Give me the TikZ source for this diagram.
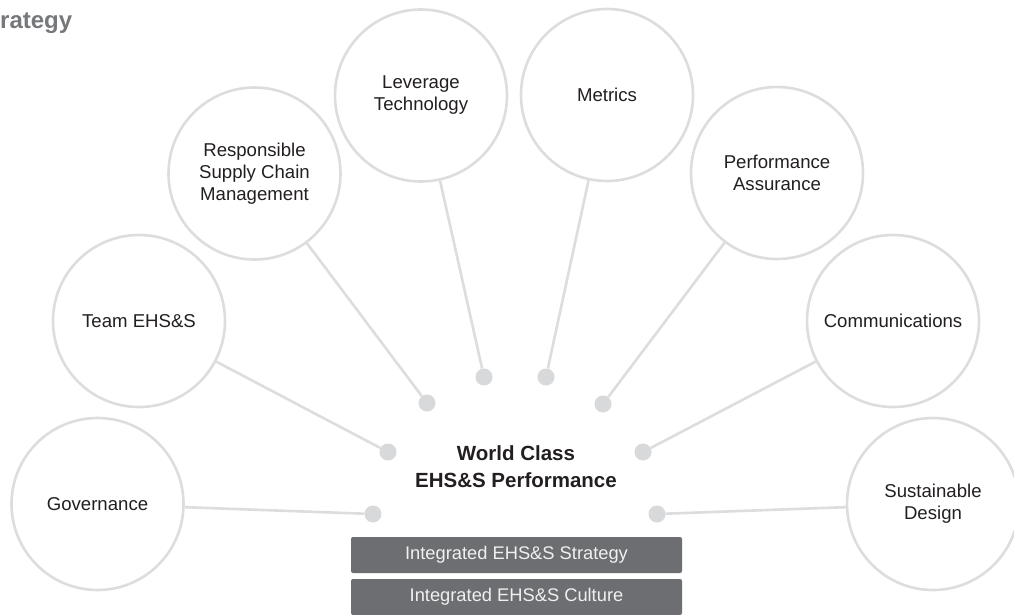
\documentclass[tikz,border=0pt]{standalone}
\usepackage{fontspec}
\setmainfont{Liberation Sans}
\begin{document}
\definecolor{ringgray}{HTML}{DCDDDF}
\definecolor{dotgray}{HTML}{D8D9DB}
\definecolor{labelink}{HTML}{231F20}
\definecolor{barfill}{HTML}{6D6E71}
\definecolor{titlegray}{HTML}{77787B}
\begin{tikzpicture}[x=1pt, y=-1pt,
  pillar/.style={circle, draw=ringgray, line width=2.6pt, fill=white,
    minimum size=172pt, inner sep=0pt, align=center, text=labelink,
    font=\fontsize{18.6}{22}\selectfont},
  hub/.style={circle, fill=dotgray, minimum size=17pt, inner sep=0pt},
  spoke/.style={draw=ringgray, line width=2.6pt},
  bar/.style={rectangle, rounded corners=2pt, fill=barfill, text=white!94!black,
    minimum width=331pt, minimum height=36pt, inner sep=0pt,
    font=\fontsize{18.3}{22}\selectfont}]
\clip (0,0) rectangle (1014,614);
\fill[white] (0,0) rectangle (1014,614);

% heading fragment
\node[anchor=base west, inner sep=0pt, text=titlegray,
  font=\fontsize{24}{27}\selectfont\bfseries] (heading) at (0,28) {rategy};

% outer circles
\node[pillar] (gov)  at (97.5,504)  {Governance};
\node[pillar] (team) at (139,321)   {Team EHS\&S};
\node[pillar] (rscm) at (254.5,173.5) {Responsible\\Supply Chain\\Management};
\node[pillar] (tech) at (421,95.5)  {Leverage\\Technology};
\node[pillar] (metr) at (607,95)    {Metrics};
\node[pillar] (pa)   at (777,173)   {Performance\\Assurance};
\node[pillar] (comm) at (893,321)   {Communications};
\node[pillar] (sd)   at (933,504)   {Sustainable\\Design};

% inner dots
\node[hub] (dgov)  at (373,514) {};
\node[hub] (dteam) at (388,452) {};
\node[hub] (drscm) at (427,403) {};
\node[hub] (dtech) at (484,377) {};
\node[hub] (dmetr) at (546,377) {};
\node[hub] (dpa)   at (603,404) {};
\node[hub] (dcomm) at (643,452) {};
\node[hub] (dsd)   at (657,514) {};

% connectors
\foreach \a/\b in {dgov/gov, dteam/team, drscm/rscm, dtech/tech,
                   dmetr/metr, dpa/pa, dcomm/comm, dsd/sd}
  \path[spoke] (\a) -- (\b);

% centre statement
\node[align=center, text=labelink, font=\fontsize{20.5}{27}\selectfont\bfseries]
  (core) at (516,466.5) {World Class\\EHS\&S Performance};

% foundation bars
\node[bar] (strat) at (516.5,555) {Integrated EHS\&S Strategy};
\node[bar] (cult)  at (516.5,597) {Integrated EHS\&S Culture};
\end{tikzpicture}
\end{document}
